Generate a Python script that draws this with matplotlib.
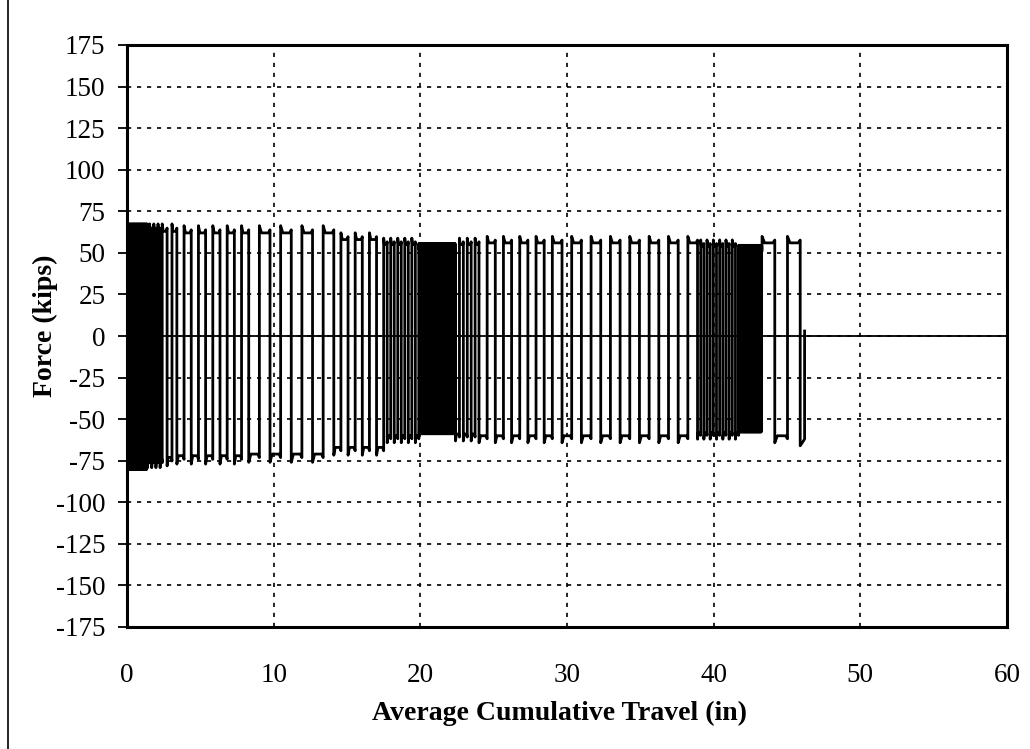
import matplotlib
matplotlib.use("Agg")
import matplotlib.pyplot as plt
from matplotlib.lines import Line2D

# Test blocks along the cumulative travel axis (inches).
# Each block runs reversal strokes of a given half-stroke length between
# positive and negative force plateaus (kips).
block_start = [0.0, 1.4, 2.4, 3.4, 8.3, 14.1, 17.5, 19.9, 22.4, 24.0, 29.0, 38.9, 41.7, 43.3]
block_end   = [1.4, 2.4, 3.4, 8.3, 14.1, 17.5, 19.9, 22.4, 24.0, 29.0, 38.9, 41.7, 43.3, 45.9]
block_half_stroke = [0.03, 0.15, 0.30, 0.50, 0.73, 0.50, 0.25, 0.03, 0.25, 0.55, 0.66, 0.22, 0.03, 0.87]
block_top    = [63, 63, 63, 62, 62, 58, 55, 52, 55, 56, 56, 54, 51, 56]
block_bottom = [-75, -74, -73, -72, -71, -67, -60, -55, -59, -60, -60, -58, -54, -60]

# Last short compression stroke and unloading at the end of the test
tail_travel = [45.9, 46.2, 46.2]
tail_force = [-66, -62, 3]

x_ticks = [0, 10, 20, 30, 40, 50, 60]
y_ticks = [175, 150, 125, 100, 75, 50, 25, 0, -25, -50, -75, -100, -125, -150, -175]
y_tick_labels = ["175", "150", "125", "100", "75", "50", "25", "0", "-25", "-50",
                 "-75", "-100", "-125", "-150", "-175"]


def build_trace():
    xs, ys = [], []
    sign = 1
    last = len(block_start) - 1
    for i, (s, e, h, top, bot) in enumerate(zip(block_start, block_end, block_half_stroke,
                                                block_top, block_bottom)):
        if i == last:
            sign = 1
        n = max(1, round((e - s) / h))
        step = (e - s) / n
        for k in range(n):
            x0 = s + k * step
            x1 = x0 + step
            level = top if sign > 0 else bot
            overshoot = level * 1.07
            xs += [x0, x0 + 0.2 * step, x1 - 0.15 * step, x1]
            ys += [overshoot, level, level, level * 1.03]
            sign = -sign
    xs += tail_travel
    ys += tail_force
    return xs, ys


trace_x, trace_y = build_trace()

plt.rcParams["font.family"] = ["Liberation Serif", "DejaVu Serif"]

fig = plt.figure(figsize=(10.30, 7.49), dpi=100)
ax = fig.add_axes([127 / 1030, 1 - 627 / 749, (1007 - 127) / 1030, (627 - 45) / 749])

ax.set_xlim(0, 60)
ax.set_ylim(-175, 175)

for xv in x_ticks[1:-1]:
    ax.axvline(xv, color="black", lw=1.2, ls=(0, (2.5, 3.5)), zorder=1)
for yv in y_ticks[1:-1]:
    ax.axhline(yv, color="black", lw=1.2, ls=(0, (2.5, 3.5)), zorder=1)
ax.axhline(0, color="black", lw=1.3, zorder=2)

ax.plot(trace_x, trace_y, color="black", lw=2.0, zorder=3)

ax.set_xticks(x_ticks)
ax.set_xticklabels([str(v) for v in x_ticks])
ax.set_yticks(y_ticks)
ax.set_yticklabels(y_tick_labels)
ax.tick_params(axis="y", direction="out", length=6.5, width=1.3, labelsize=19.5, pad=9)
ax.tick_params(axis="x", length=0, labelsize=19.5, pad=26)

for sp in ax.spines.values():
    sp.set_linewidth(2.2)
    sp.set_color("black")

fig.text(560 / 1030, 1 - 713 / 749, "Average Cumulative Travel (in)", fontsize=20,
         fontweight="bold", ha="center", va="center")
fig.text(45 / 1030, 1 - 326 / 749, "Force (kips)", fontsize=20, fontweight="bold",
         ha="center", va="center", rotation=90)

# Outer frame of the figure
fig.add_artist(Line2D([8 / 1030, 8 / 1030], [0, 1], color="black", lw=1.2,
                      transform=fig.transFigure))

fig.savefig("out.png", dpi=100)
